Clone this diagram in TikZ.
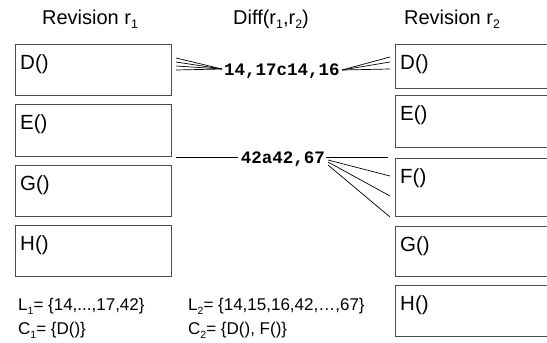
\documentclass[tikz,border=0pt]{standalone}
\usepackage{fontspec}
\setmainfont{Liberation Sans}
\newfontfamily\monob{Liberation Mono}
\newcommand{\lowsub}[1]{\raisebox{-0.45ex}{\fontsize{0.62em}{1em}\selectfont #1}}
\begin{document}
\begin{tikzpicture}[x=1pt,y=-1pt,
 box/.style={draw=black!70, line width=0.9pt, inner sep=0pt, anchor=north west, minimum width=156pt},
 rbox/.style={box, minimum width=165pt},
 blbl/.style={anchor=base west, xshift=5pt, yshift=-25pt, inner sep=0pt, font=\fontsize{20.5}{24}\selectfont},
 title/.style={font=\fontsize{20}{24}\selectfont, anchor=base, inner sep=0pt},
 diff/.style={font=\monob\bfseries\fontsize{17.5}{20}\selectfont, inner sep=0pt},
 conn/.style={line width=0.7pt},
 note/.style={font=\fontsize{17}{20}\selectfont, anchor=base west, inner sep=0pt}]
\useasboundingbox (0,0) rectangle (547,343);

% titles
\node[title] (t1) at (90,24) {Revision r\lowsub{1}};
\node[title] (t2) at (271,24) {Diff(r\lowsub{1},r\lowsub{2})};
\node[title] (t3) at (452,24) {Revision r\lowsub{2}};

% left revision
\node[box, minimum height=51pt, label={[blbl]north west:D()}] (lD) at (15,44) {};
\node[box, minimum height=52pt, label={[blbl]north west:E()}] (lE) at (15,104) {};
\node[box, minimum height=51pt, label={[blbl]north west:G()}] (lG) at (15,165) {};
\node[box, minimum height=51pt, label={[blbl]north west:H()}] (lH) at (15,225) {};

% right revision
\node[rbox, minimum height=44pt, label={[blbl]north west:D()}] (rD) at (395,44) {};
\node[rbox, minimum height=52pt, label={[blbl]north west:E()}] (rE) at (395,95) {};
\node[rbox, minimum height=58pt, label={[blbl]north west:F()}] (rF) at (395,158) {};
\node[rbox, minimum height=50pt, label={[blbl]north west:G()}] (rG) at (395,226) {};
\node[rbox, minimum height=51pt, label={[blbl]north west:H()}] (rH) at (395,285) {};

% diff labels
\node[diff] (d1) at (282,71) {14,17c14,16};
\node[diff] (d2) at (283,159) {42a42,67};

% fan 1 left
\coordinate (a1) at (176,58);
\coordinate (a2) at (176,62);
\coordinate (a3) at (176,66);
\coordinate (a4) at (176,70);
\coordinate (ca) at (222,69);
\foreach \i in {1,...,4} \draw[conn] (a\i) -- (ca);
% fan 1 right
\coordinate (b1) at (390,57);
\coordinate (b2) at (390,62);
\coordinate (b3) at (390,69);
\coordinate (cb) at (342,70);
\foreach \i in {1,...,3} \draw[conn] (cb) -- (b\i);

% fan 2 left
\coordinate (e1) at (176,157);
\coordinate (ce) at (238,157);
\draw[conn] (e1) -- (ce);
% fan 2 right
\coordinate (f0s) at (326,157);
\coordinate (f0) at (388,157);
\coordinate (f1s) at (328,160);
\coordinate (f1) at (390,176);
\coordinate (f2s) at (328,162);
\coordinate (f2) at (390,196);
\coordinate (f3s) at (328,165);
\coordinate (f3) at (390,217);
\foreach \i in {0,...,3} \draw[conn] (f\i s) -- (f\i);

% notes
\node[note] (n1) at (18,310) {L\lowsub{1}= \{14,...,17,42\}};
\node[note] (n2) at (18,334) {C\lowsub{1}= \{D()\}};
\node[note] (n3) at (188,310) {L\lowsub{2}= \{14,15,16,42,…,67\}};
\node[note] (n4) at (188,334) {C\lowsub{2}= \{D(), F()\}};
\end{tikzpicture}
\end{document}
